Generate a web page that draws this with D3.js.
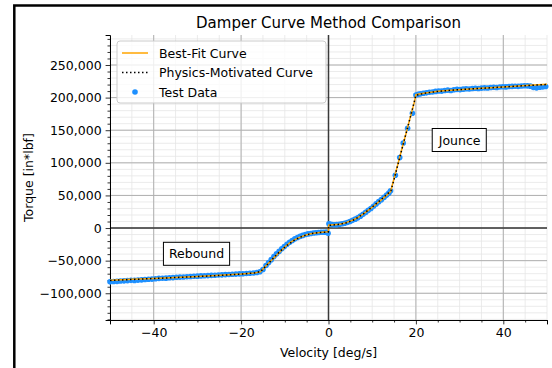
<!DOCTYPE html>
<html>
<head>
<meta charset="utf-8">
<script src="https://cdn.jsdelivr.net/npm/d3@7"></script>
<style>
  body { margin: 0; background: #fff; }
  text { font-family: "DejaVu Sans", sans-serif; fill: #000; }
</style>
</head>
<body>
<div id="chart"></div>
<script>
// tick labels
const xTicks = [-40, -20, 0, 20, 40]
const yTicks = [-100000, -50000, 0, 50000, 100000, 150000, 200000, 250000]

// best-fit curve
const fitV = [-50, -45, -40, -35, -30, -25, -20, -17, -15.6, -14.5, -13.4, -12.2, -11.1, -10, -8.8, -7.7, -6.6, -5.5, -4.3, -3, -2, -1, -0.05,
  0.05, 1, 2.6, 4, 5.6, 6.8, 7.9, 9, 10.2, 11.3, 12.5, 13.4, 14.2, 15, 16, 17, 18, 19, 19.6, 20,
  21, 23, 25.5, 28, 30, 35, 40, 45, 50]
const fitT = [-80000, -78600, -77200, -75800, -74300, -72500, -70500, -68800, -67200, -59500, -51700, -43800, -36300, -29000, -22500, -17800, -14300, -11400, -9200, -7600, -6700, -6100, -5800,
  4500, 4900, 5700, 8300, 12300, 16300, 21500, 26800, 32700, 39000, 45600, 50800, 55700, 76000, 101000, 126500, 151500, 177000, 192000, 204500,
  206000, 208000, 210000, 211300, 212200, 214300, 216400, 218400, 220300]

// physics-motivated curve
const physV = [-50, -45, -40, -35, -30, -25, -20, -17, -15.5, -14, -12.5, -11, -9.5, -8, -6.5, -5, -3.5, -2, -0.05,
  0.05, 2, 4, 6, 8, 10, 12, 13.5, 14.3, 15.2, 16, 17, 18, 19, 20, 22, 25, 30, 35, 40, 45, 50]
const physT = [-80400, -78900, -77400, -75900, -74400, -72700, -70700, -68900, -66500, -56000, -45300, -35100, -26500, -19500, -14100, -10300, -8000, -6800, -6000,
  4200, 5100, 7800, 13100, 21800, 32200, 43500, 52400, 57500, 79500, 100500, 126000, 151500, 177000, 203500, 206800, 209500, 212400, 214200, 216300, 218300, 220100]

// test data
const testV = [-50, -49.2, -48.4, -47.6, -46.8, -46, -45.2, -44.4, -43.6, -42.8, -42, -41.2, -40.4, -39.6, -38.8, -38, -37.2, -36.4, -35.6, -34.8,
  -34, -33.2, -32.4, -31.6, -30.8, -30, -29.2, -28.4, -27.6, -26.8, -26, -25.2, -24.4, -23.6, -22.8, -22, -21.2, -20.4, -19.6, -18.8,
  -18, -17.2, -16.4, -15.7, -15, -14.3, -13.7, -13.1, -12.5, -11.9, -11.3, -10.7, -10.1, -9.5, -8.9, -8.3, -7.7, -7.1, -6.5, -5.9,
  -5.3, -4.7, -4.1, -3.5, -2.9, -2.3, -1.7, -1.1, -0.5, -0.1,
  0.1, 0.4, 0.8, 1.3, 1.9, 2.5, 3.1, 3.7, 4.3, 4.9, 5.5, 6.1, 6.7, 7.3, 7.9, 8.5, 9.1, 9.7, 10.3, 10.9,
  11.5, 12.1, 12.7, 13.3, 13.8, 14.2, 15.3, 16.3, 17.1, 18.1, 19.2, 20,
  20.5, 21, 21.7, 22.4, 23.1, 23.8, 24.5, 25.2, 25.9, 26.6, 27.3, 28, 28.7, 29.4, 30.1, 30.8, 31.5, 32.2, 32.9, 33.6,
  34.3, 35, 35.7, 36.4, 37.1, 37.8, 38.5, 39.2, 39.9, 40.6, 41.3, 42, 42.7, 43.4, 44.1, 44.8, 45.5, 46.2, 46.9, 47.6,
  48.3, 49, 49.7]
const testT = [-82500, -82000, -81800, -81300, -81000, -80600, -80200, -80300, -79800, -79500, -79000, -78600, -78300, -77700, -77200, -76900, -76800, -76300, -76000, -75500,
  -75200, -75000, -74600, -74400, -74000, -73800, -73400, -73100, -72900, -72500, -72400, -72000, -71800, -71400, -71300, -70800, -70600, -70300, -70100, -69700,
  -69400, -69000, -68200, -67000, -63500, -57500, -53000, -48500, -43800, -39600, -35800, -31800, -28200, -24800, -21800, -19000, -16600, -14600, -12800, -11300,
  -10000, -9000, -8300, -7700, -7200, -6800, -6500, -6400, -6300, -7900,
  6500, 5800, 5500, 5000, 5200, 5800, 6500, 7300, 8500, 10000, 11800, 13600, 15600, 18200, 21000, 24000, 27100, 30000, 33500, 37000,
  40500, 43500, 47000, 50500, 53500, 57000, 81000, 108000, 130500, 153000, 176000, 204000,
  205000, 205800, 206600, 207300, 208300, 208600, 209500, 210200, 210000, 210800, 211500, 211000, 212000, 212600, 212300, 213000, 213500, 213200, 214000, 214300,
  214000, 214600, 215000, 214800, 215400, 215800, 215600, 216200, 216600, 216400, 217000, 217200, 217500, 217300, 217900, 218200, 218000, 217600, 215500, 215000,
  215800, 216200, 217000]

const W = 552, H = 368
const margin = { top: 35, right: 5, bottom: 48, left: 110 }

const xScale = d3.scaleLinear().domain([-50, 50]).range([margin.left, W - margin.right])
const yScale = d3.scaleLinear().domain([-141000, 296000]).range([H - margin.bottom, margin.top])

const svg = d3.select('#chart').append('svg')
  .attr('width', W)
  .attr('height', H)

svg.append('rect').attr('width', W).attr('height', H).attr('fill', '#fff')

// outer frame of the figure
svg.append('rect')
  .attr('x', 14.3).attr('y', 5.5)
  .attr('width', 600).attr('height', 400)
  .attr('fill', 'none').attr('stroke', '#000').attr('stroke-width', 2.5)

const x0 = margin.left, x1 = W - margin.right
const y0 = H - margin.bottom, y1 = margin.top

const xMinor = d3.range(-50, 50.1, 5)
const yMinor = d3.range(-140000, 296000, 10000)

const grid = svg.append('g')
grid.selectAll('.vmin').data(xMinor).enter().append('line')
  .attr('x1', d => xScale(d)).attr('x2', d => xScale(d))
  .attr('y1', y0).attr('y2', y1)
  .attr('stroke', '#e6e6e6').attr('stroke-width', 0.8)
grid.selectAll('.hmin').data(yMinor).enter().append('line')
  .attr('y1', d => yScale(d)).attr('y2', d => yScale(d))
  .attr('x1', x0).attr('x2', x1)
  .attr('stroke', '#e6e6e6').attr('stroke-width', 0.8)
grid.selectAll('.vmaj').data(xTicks).enter().append('line')
  .attr('x1', d => xScale(d)).attr('x2', d => xScale(d))
  .attr('y1', y0).attr('y2', y1)
  .attr('stroke', '#b0b0b0').attr('stroke-width', 1)
grid.selectAll('.hmaj').data(yTicks).enter().append('line')
  .attr('y1', d => yScale(d)).attr('y2', d => yScale(d))
  .attr('x1', x0).attr('x2', x1)
  .attr('stroke', '#b0b0b0').attr('stroke-width', 1)

// zero lines
svg.append('line')
  .attr('x1', xScale(0)).attr('x2', xScale(0)).attr('y1', y0).attr('y2', y1)
  .attr('stroke', '#3a3a3a').attr('stroke-width', 1.5)
svg.append('line')
  .attr('y1', yScale(0)).attr('y2', yScale(0)).attr('x1', x0).attr('x2', x1)
  .attr('stroke', '#3a3a3a').attr('stroke-width', 1.5)

// axes
const xAxis = svg.append('g')
  .attr('transform', `translate(0,${y0})`)
  .call(d3.axisBottom(xScale).tickValues(xTicks).tickSize(4.4).tickPadding(4))
const xAxisMinor = svg.append('g')
  .attr('transform', `translate(0,${y0})`)
  .call(d3.axisBottom(xScale).tickValues(xMinor.filter(d => !xTicks.includes(d))).tickSize(2.5).tickFormat(''))
const yAxis = svg.append('g')
  .attr('transform', `translate(${x0},0)`)
  .call(d3.axisLeft(yScale).tickValues(yTicks).tickSize(4.4).tickPadding(4).tickFormat(d3.format(',')))
const yAxisMinor = svg.append('g')
  .attr('transform', `translate(${x0},0)`)
  .call(d3.axisLeft(yScale).tickValues(yMinor.filter(d => !yTicks.includes(d))).tickSize(2.5).tickFormat(''))

;[xAxis, xAxisMinor, yAxis, yAxisMinor].forEach(a => {
  a.selectAll('text').style('font-family', '"DejaVu Sans", sans-serif').style('font-size', '12.5px').attr('fill', '#000')
  a.selectAll('line').attr('stroke', '#000').attr('stroke-width', 0.8)
  a.select('.domain').attr('stroke', '#000').attr('stroke-width', 1)
})
xAxisMinor.select('.domain').remove()
yAxisMinor.select('.domain').remove()

// test data
const test = testV.map((v, i) => ({ v: v, t: testT[i] }))
svg.append('g').selectAll('circle').data(test).enter().append('circle')
  .attr('cx', d => xScale(d.v)).attr('cy', d => yScale(d.t))
  .attr('r', 2.8).attr('fill', '#1e90ff')

const line = d3.line().x(d => xScale(d[0])).y(d => yScale(d[1]))

svg.append('path')
  .datum(fitV.map((v, i) => [v, fitT[i]]))
  .attr('d', line)
  .attr('fill', 'none').attr('stroke', '#ffa500').attr('stroke-width', 1.5)

svg.append('path')
  .datum(physV.map((v, i) => [v, physT[i]]))
  .attr('d', line)
  .attr('fill', 'none').attr('stroke', '#000').attr('stroke-width', 1.5)
  .attr('stroke-dasharray', '1.5,2.5')

// annotations
function boxLabel(txt, v, t) {
  const g = svg.append('g')
  const label = g.append('text')
    .attr('x', xScale(v)).attr('y', yScale(t))
    .attr('text-anchor', 'middle').attr('dominant-baseline', 'central')
    .style('font-size', '12.5px')
    .text(txt)
  const bb = label.node().getBBox()
  g.insert('rect', 'text')
    .attr('x', bb.x - 5.5).attr('y', bb.y - 4)
    .attr('width', bb.width + 11).attr('height', bb.height + 8)
    .attr('fill', '#fff').attr('stroke', '#000').attr('stroke-width', 1)
}
boxLabel('Rebound', -30.2, -39500)
boxLabel('Jounce', 30, 135000)

// legend
const legend = svg.append('g')
legend.append('rect')
  .attr('x', 117).attr('y', 41).attr('width', 209).attr('height', 62).attr('rx', 3)
  .attr('fill', '#fff').attr('fill-opacity', 0.8).attr('stroke', '#cccccc').attr('stroke-width', 1)
const items = ['Best-Fit Curve', 'Physics-Motivated Curve', 'Test Data']
items.forEach((name, i) => {
  const cy = 53 + i * 19.5
  if (i === 0) {
    legend.append('line').attr('x1', 122).attr('x2', 148).attr('y1', cy).attr('y2', cy)
      .attr('stroke', '#ffa500').attr('stroke-width', 1.5)
  } else if (i === 1) {
    legend.append('line').attr('x1', 122).attr('x2', 148).attr('y1', cy).attr('y2', cy)
      .attr('stroke', '#000').attr('stroke-width', 1.5).attr('stroke-dasharray', '1.5,2.5')
  } else {
    legend.append('circle').attr('cx', 135).attr('cy', cy).attr('r', 2.8).attr('fill', '#1e90ff')
  }
  legend.append('text').attr('x', 159).attr('y', cy).attr('dominant-baseline', 'central')
    .style('font-size', '12.5px').text(name)
})

// titles
svg.append('text')
  .attr('x', (x0 + x1) / 2).attr('y', 28)
  .attr('text-anchor', 'middle').style('font-size', '15px')
  .text('Damper Curve Method Comparison')
svg.append('text')
  .attr('x', (x0 + x1) / 2).attr('y', 357)
  .attr('text-anchor', 'middle').style('font-size', '12.5px')
  .text('Velocity [deg/s]')
svg.append('text')
  .attr('transform', `translate(33,${(y0 + y1) / 2}) rotate(-90)`)
  .attr('text-anchor', 'middle').style('font-size', '12.5px')
  .text('Torque [in*lbf]')
</script>
</body>
</html>
